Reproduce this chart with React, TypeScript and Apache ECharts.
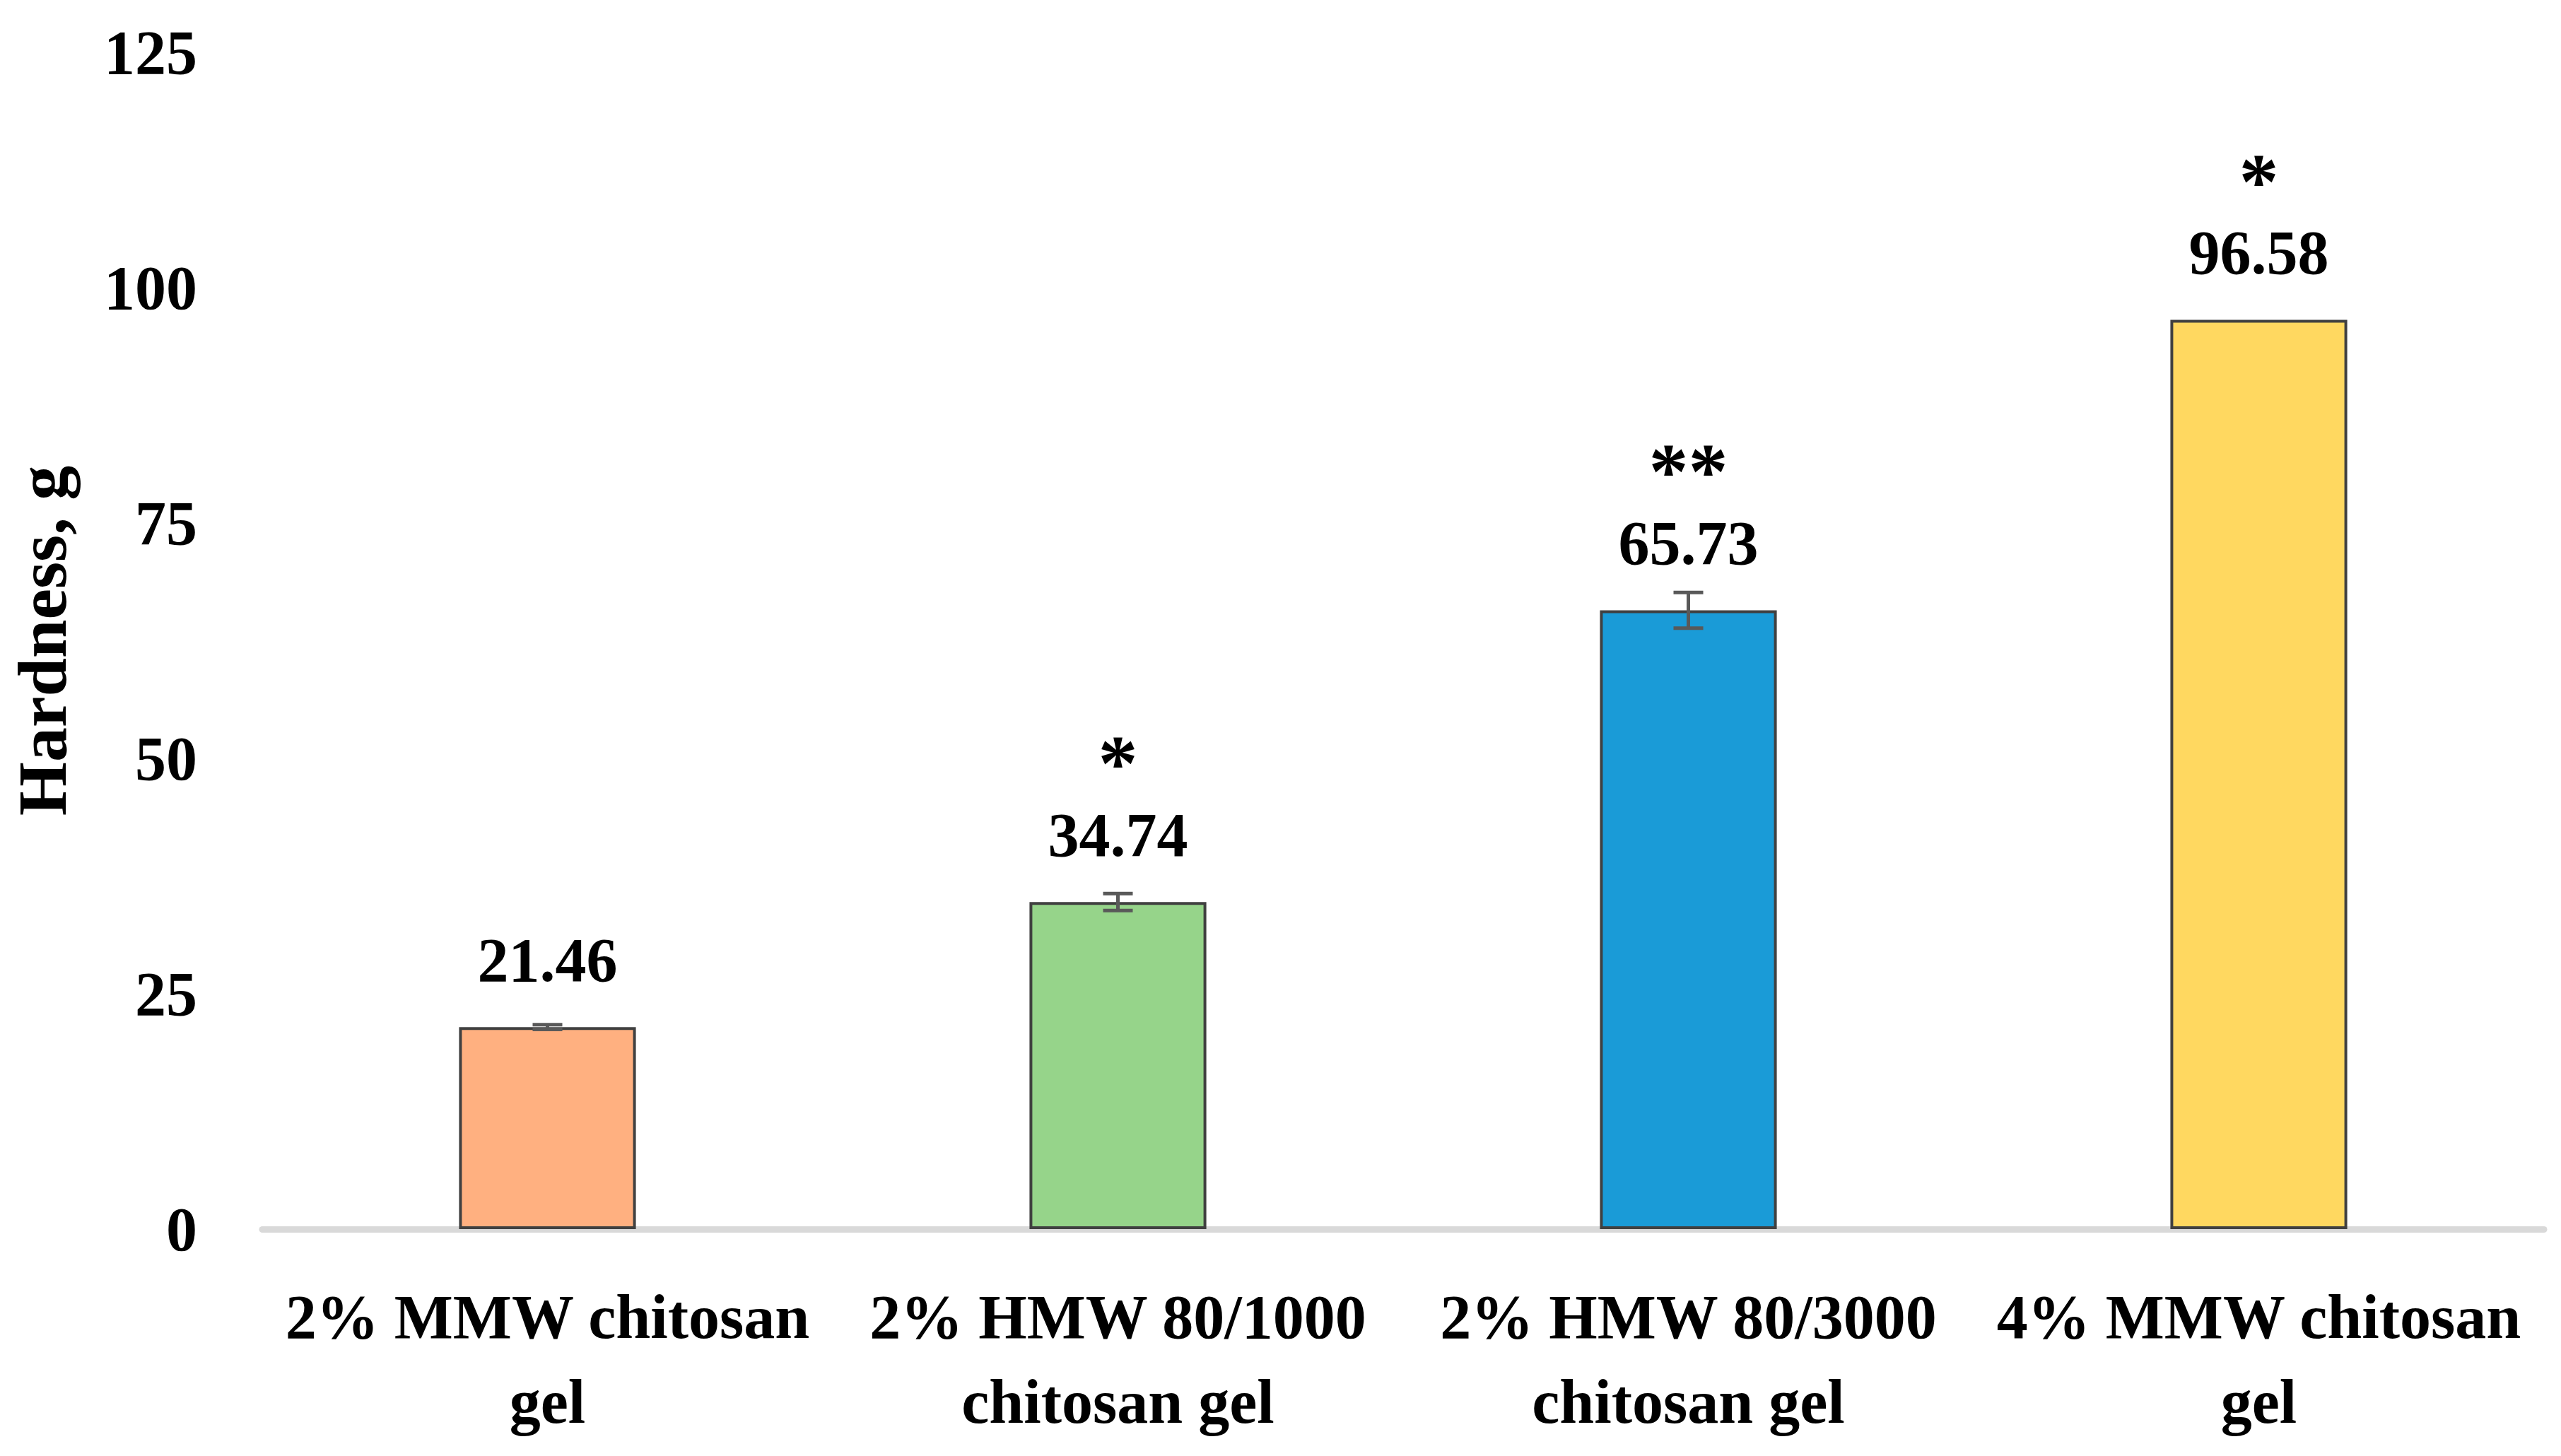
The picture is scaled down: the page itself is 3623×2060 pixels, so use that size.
import React, { useEffect, useRef } from "react";
import * as echarts from "echarts";

const categories = [
  "2% MMW chitosan\ngel",
  "2% HMW 80/1000\nchitosan gel",
  "2% HMW 80/3000\nchitosan gel",
  "4% MMW chitosan\ngel",
];
const hardness = [21.46, 34.74, 65.73, 96.58];
const errors = [0.25, 0.9, 1.9, 0];
const significance = ["", "*", "**", "*"];
const barColors = ["#FFB080", "#96D48A", "#1A9BD7", "#FFD860"];
const yTicks = { min: 0, max: 125, interval: 25 };

const FONT = "'Liberation Serif', 'Times New Roman', serif";

export default function App() {
  const ref = useRef<HTMLDivElement>(null);

  useEffect(() => {
    document.body.style.margin = "0";
    document.body.style.overflow = "hidden";
    if (!ref.current) return;
    const chart = echarts.init(ref.current, null, { renderer: "svg" });
    chart.setOption({
      animation: false,
      backgroundColor: "#ffffff",
      grid: { left: 371, right: 24, top: 74, bottom: 321, containLabel: false },
      xAxis: {
        type: "category",
        data: categories,
        axisLine: { show: true, lineStyle: { color: "#D9D9D9", width: 9 } },
        axisTick: { show: false },
        axisLabel: {
          interval: 0,
          margin: 64,
          fontFamily: FONT,
          fontWeight: "bold",
          fontSize: 88,
          lineHeight: 120,
          color: "#000000",
        },
      },
      yAxis: {
        type: "value",
        min: yTicks.min,
        max: yTicks.max,
        interval: yTicks.interval,
        name: "Hardness, g",
        nameLocation: "middle",
        nameGap: 262,
        nameTextStyle: {
          fontFamily: FONT,
          fontWeight: "bold",
          fontSize: 98,
          color: "#000000",
        },
        axisLine: { show: false },
        axisTick: { show: false },
        splitLine: { show: false },
        axisLabel: {
          margin: 92,
          fontFamily: FONT,
          fontWeight: "bold",
          fontSize: 88,
          color: "#000000",
        },
      },
      series: [
        {
          type: "bar",
          barWidth: "31%",
          data: hardness.map((v, i) => ({
            value: v,
            itemStyle: { color: barColors[i] },
          })),
          itemStyle: { borderColor: "#404040", borderWidth: 4 },
          label: {
            show: true,
            position: "top",
            distance: 50,
            formatter: (p: any) => {
              const s = significance[p.dataIndex];
              const v = hardness[p.dataIndex].toFixed(2);
              return s ? `{s|${s}}\n{v|${v}}` : `{v|${v}}`;
            },
            rich: {
              s: {
                fontFamily: FONT,
                fontWeight: "bold",
                fontSize: 112,
                lineHeight: 112,
                color: "#000000",
                align: "center",
              },
              v: {
                fontFamily: FONT,
                fontWeight: "bold",
                fontSize: 88,
                lineHeight: 90,
                color: "#000000",
                align: "center",
              },
            },
          },
          z: 2,
        },
        {
          type: "custom",
          z: 3,
          data: hardness.map((v, i) => [i, v, errors[i]]),
          renderItem: (params: any, api: any) => {
            const x = api.value(0);
            const v = api.value(1);
            const e = api.value(2);
            if (!(e > 0)) return null;
            const top = api.coord([x, v + e]);
            const bot = api.coord([x, v - e]);
            const hw = 21;
            const style = { stroke: "#595959", lineWidth: 5 };
            return {
              type: "group",
              children: [
                { type: "line", shape: { x1: top[0], y1: top[1], x2: bot[0], y2: bot[1] }, style },
                { type: "line", shape: { x1: top[0] - hw, y1: top[1], x2: top[0] + hw, y2: top[1] }, style },
                { type: "line", shape: { x1: bot[0] - hw, y1: bot[1], x2: bot[0] + hw, y2: bot[1] }, style },
              ],
            };
          },
        },
      ],
    });
    return () => chart.dispose();
  }, []);

  return <div ref={ref} style={{ width: 3623, height: 2060 }} />;
}
